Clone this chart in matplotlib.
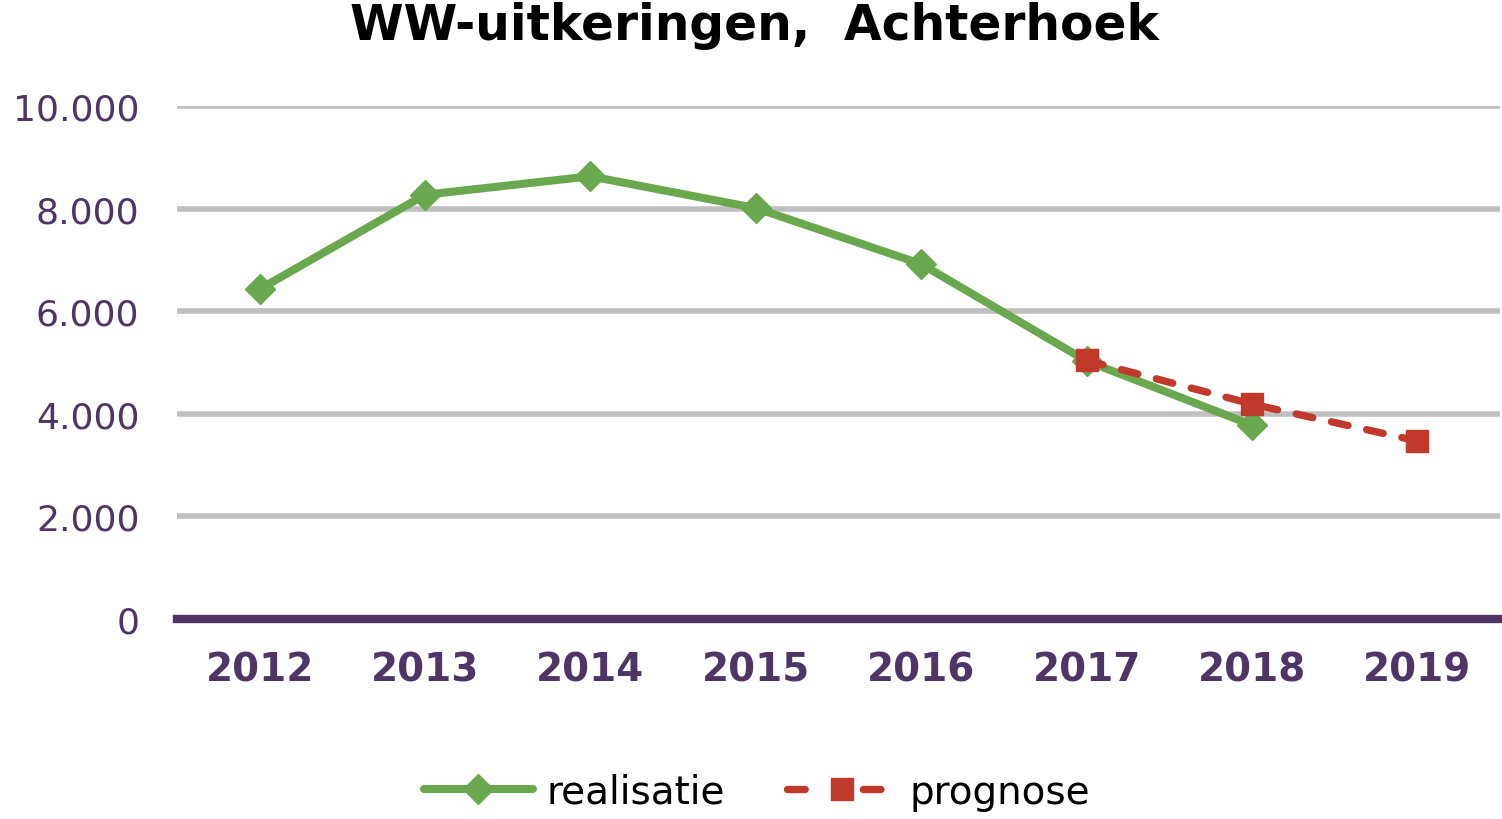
import matplotlib
matplotlib.use("Agg")
import matplotlib.pyplot as plt
from matplotlib.lines import Line2D
from matplotlib.ticker import FuncFormatter

years = ["2012", "2013", "2014", "2015", "2016", "2017", "2018", "2019"]
realisatie = [6430, 8270, 8630, 8010, 6920, 5030, 3780]
prognose_years = ["2017", "2018", "2019"]
prognose = [5040, 4190, 3470]
series_labels = ["realisatie", "prognose"]

GREEN = "#6AA84F"
RED = "#C0392B"
PURPLE = "#4F3566"
GRID = "#BFBFBF"

plt.rcParams['font.family'] = ['DejaVu Sans']

fig = plt.figure(figsize=(15.02, 8.2), dpi=100)
ax = fig.add_axes([0.1178, 0.2439, 0.8809, 0.6256])

xr = [years.index(y) for y in years[:len(realisatie)]]
xp = [years.index(y) for y in prognose_years]

ax.plot(xr, realisatie, color=GREEN, lw=5.8, marker='D', markersize=15,
        solid_capstyle='round', solid_joinstyle='round',
        zorder=3, clip_on=False)
ax.plot(xp, prognose, color=RED, lw=5.3, marker='s', markersize=16,
        dashes=(2.3, 2.6), dash_capstyle='round', zorder=4, clip_on=False)

ax.set_xlim(-0.5, len(years) - 0.5)
ax.set_ylim(0, 10000)
ax.set_yticks(range(0, 10001, 2000))
ax.yaxis.set_major_formatter(FuncFormatter(lambda v, p: f"{int(v):,}".replace(",", ".")))
ax.set_xticks(range(len(years)))
ax.set_xticklabels(years, fontweight='bold', fontsize=28)

ax.grid(axis='y', color=GRID, lw=4)
ax.set_axisbelow(True)
for s in ['left', 'right', 'top']:
    ax.spines[s].set_visible(False)
ax.spines['bottom'].set_color(PURPLE)
ax.spines['bottom'].set_linewidth(6)
ax.spines['bottom'].set_zorder(2)

ax.tick_params(axis='both', length=0, labelcolor=PURPLE, labelsize=26)
ax.tick_params(axis='x', pad=23, labelsize=28)
ax.tick_params(axis='y', pad=27)

fig.text(0.502, 0.968, "WW-uitkeringen,  Achterhoek", ha='center', va='center',
         fontsize=35, fontweight='bold', color='black')

h_real = Line2D([], [], color=GREEN, lw=5.8, marker='D', markersize=15,
                solid_capstyle='round')
h_prog = Line2D([], [], color=RED, lw=5.3, marker='s', markersize=16,
                dashes=(2.4, 7.9), dash_capstyle='round')
fig.legend([h_real, h_prog], series_labels, loc='center', bbox_to_anchor=(0.504, 0.033),
           ncol=2, frameon=False, fontsize=28, handlelength=2.8,
           columnspacing=1.6, handletextpad=0.35)

fig.savefig("out.png", dpi=100)
